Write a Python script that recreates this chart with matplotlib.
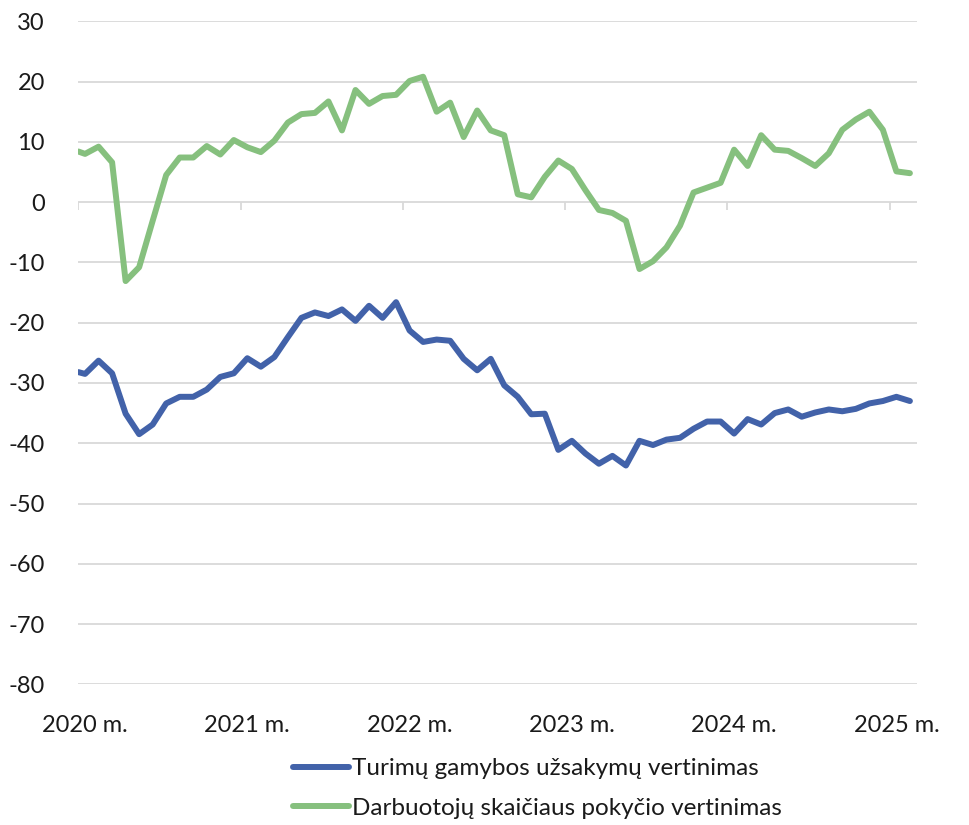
import numpy as np
import matplotlib.pyplot as plt

# Monthly values, Jan 2020 - Feb 2025 (first entry = value at the axis edge)
orders = [-28.2,
          -28.5, -26.3, -28.4, -35.1, -38.5, -36.9, -33.4, -32.3, -32.3, -31.1, -29.0, -28.4,
          -25.9, -27.3, -25.7, -22.4, -19.2, -18.3, -18.9, -17.8, -19.7, -17.2, -19.2, -16.6,
          -21.3, -23.2, -22.8, -23.0, -26.0, -27.9, -26.0, -30.4, -32.3, -35.2, -35.1, -41.1,
          -39.6, -41.7, -43.4, -42.1, -43.7, -39.6, -40.3, -39.4, -39.1, -37.6, -36.4, -36.4,
          -38.4, -36.0, -36.9, -35.0, -34.4, -35.6, -34.9, -34.4, -34.7, -34.3, -33.4, -33.0,
          -32.3, -33.0]
staff = [8.4,
         8.0, 9.2, 6.6, -13.1, -10.8, -3.1, 4.5, 7.4, 7.4, 9.3, 7.9, 10.3,
         9.1, 8.3, 10.2, 13.2, 14.6, 14.8, 16.7, 11.9, 18.6, 16.3, 17.6, 17.8,
         20.1, 20.8, 15.0, 16.5, 10.8, 15.2, 11.9, 11.1, 1.3, 0.8, 4.2, 6.9,
         5.5, 2.0, -1.3, -1.8, -3.1, -11.1, -9.8, -7.5, -3.9, 1.6, 2.4, 3.2,
         8.7, 6.0, 11.1, 8.7, 8.5, 7.3, 6.0, 8.1, 12.0, 13.7, 15.0, 12.0,
         5.1, 4.8]
years = ['2020 m.', '2021 m.', '2022 m.', '2023 m.', '2024 m.', '2025 m.']
labels = ['Turimų gamybos užsakymų vertinimas',
          'Darbuotojų skaičiaus pokyčio vertinimas']

n = len(orders) - 1
x = np.concatenate([[0], np.arange(n) + 0.5])

plt.rcParams['font.family'] = ['Lato', 'DejaVu Sans']
plt.rcParams['axes.unicode_minus'] = False

fig = plt.figure(figsize=(9.69, 8.25), dpi=100)
ax = fig.add_axes([0.0808, 0.1705, 0.946 - 0.0808, 0.9742 - 0.1705])

grid = '#d9d9d9'
for v in range(-80, 31, 10):
    ax.axhline(v, color=grid, lw=1.3, zorder=0)
# tick marks on the zero line
ax.vlines(np.arange(0, n, 12), -1.35, 0, color=grid, lw=1.3, zorder=0)

ax.plot(x, orders, color='#4262a9', lw=4.3, solid_joinstyle='round',
        solid_capstyle='round', label=labels[0])
ax.plot(x, staff, color='#86c07e', lw=4.3, solid_joinstyle='round',
        solid_capstyle='round', label=labels[1])

ax.set_xlim(0, n)
ax.set_ylim(-80, 30)
ax.set_yticks(range(-80, 31, 10))
ax.set_xticks(np.arange(0, n, 12) + 0.5)
ax.set_xticklabels(years)
ax.tick_params(axis='both', length=0, labelsize=17, colors='#1a1a1a')
ax.tick_params(axis='y', pad=24)
ax.tick_params(axis='x', pad=22)
for s in ax.spines.values():
    s.set_visible(False)

fig.legend(loc='upper left', bbox_to_anchor=(0.292, 0.093), frameon=False,
           fontsize=17.5, handlelength=2.3, handletextpad=0.15,
           labelspacing=0.78, borderaxespad=0, labelcolor='#1a1a1a')

fig.savefig('out.png', dpi=100, facecolor='white')
